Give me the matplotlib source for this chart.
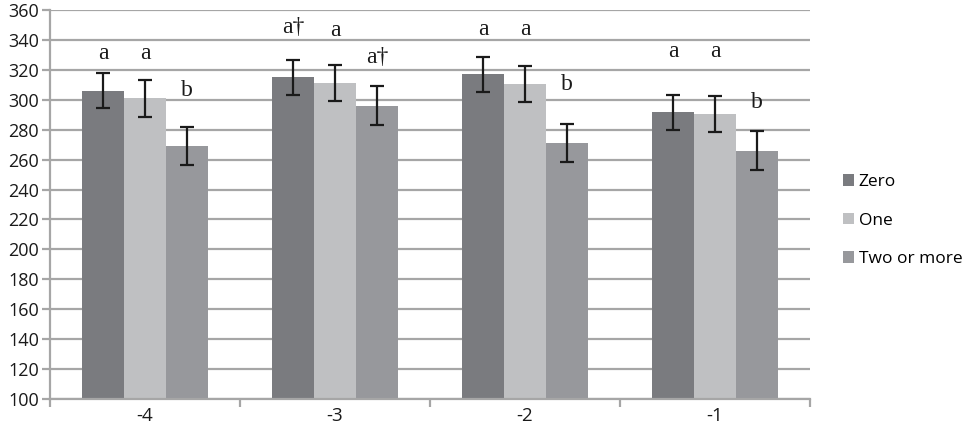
import matplotlib
matplotlib.use("Agg")
import matplotlib.pyplot as plt
import numpy as np

categories = ["-4", "-3", "-2", "-1"]
series_names = ["Zero", "One", "Two or more"]
zero_vals = [306, 315, 317, 291.5]
one_vals = [301, 311, 310.5, 290.5]
two_vals = [269, 296, 271, 266]
zero_err = [11.6, 11.6, 11.5, 11.4]
one_err = [12.2, 12.0, 12.0, 12.1]
two_err = [12.9, 13.0, 12.9, 13.0]
letters_zero = ["a", "a\u2020", "a", "a"]
letters_one = ["a", "a", "a", "a"]
letters_two = ["b", "a\u2020", "b", "b"]
letter_y_zero = [331, 348, 347, 332]
letter_y_one = [331, 346, 347, 332]
letter_y_two = [306.5, 328.5, 310, 298]

colors = ["#7a7b7f", "#bfc0c2", "#97989c"]

fig = plt.figure(figsize=(9.65, 4.38), dpi=100)
ax = fig.add_axes([50/965, 1-399/438, 760/965, 389/438])

x = np.arange(len(categories))
w = 126/190/3
vals = [zero_vals, one_vals, two_vals]
errs = [zero_err, one_err, two_err]
letters = [letters_zero, letters_one, letters_two]
ly = [letter_y_zero, letter_y_one, letter_y_two]
for i in range(3):
    pos = x + (i-1)*w
    ax.bar(pos, np.array(vals[i]) - 100, bottom=100, width=w, color=colors[i],
           label=series_names[i], zorder=2)
    ax.errorbar(pos, vals[i], yerr=errs[i], fmt='none', ecolor='#1a1a1a',
                elinewidth=1.6, capsize=5, capthick=1.6, zorder=3)
    for p, t, yy in zip(pos, letters[i], ly[i]):
        ax.text(p, yy, t, ha='center', va='center', fontsize=17,
                family='Liberation Serif', color='#1a1a1a', zorder=4)

ax.set_xlim(-0.5, 3.5)
ax.set_ylim(100, 360)
ax.set_yticks(np.arange(100, 361, 20))
ax.yaxis.grid(True, color='#a6a6a6', linewidth=1.6, zorder=0)
ax.set_axisbelow(True)
for s in ['top', 'right']:
    ax.spines[s].set_visible(False)
for s in ['left', 'bottom']:
    ax.spines[s].set_color('#a6a6a6')
    ax.spines[s].set_linewidth(1.6)

ax.set_xticks(x)
ax.set_xticklabels(categories)
ax.set_xticks(np.arange(-0.5, 3.6, 1), minor=True)
ax.tick_params(axis='x', which='major', length=0, pad=6, labelsize=13.5)
ax.tick_params(axis='x', which='minor', length=6, width=1.6, color='#a6a6a6', direction='out')
ax.tick_params(axis='y', length=6, width=1.6, color='#a6a6a6', labelsize=13, pad=2)
for lab in ax.get_xticklabels() + ax.get_yticklabels():
    lab.set_family('Open Sans')
    lab.set_color('#1a1a1a')

leg = fig.legend(loc='upper left', bbox_to_anchor=(838/965, 1-169/438), frameon=False,
                 prop={'family': 'Open Sans', 'size': 12.5}, handlelength=0.65, handleheight=0.65,
                 handletextpad=0.25, labelspacing=1.3, borderaxespad=0, borderpad=0.3)

fig.savefig("out.png", dpi=100)
